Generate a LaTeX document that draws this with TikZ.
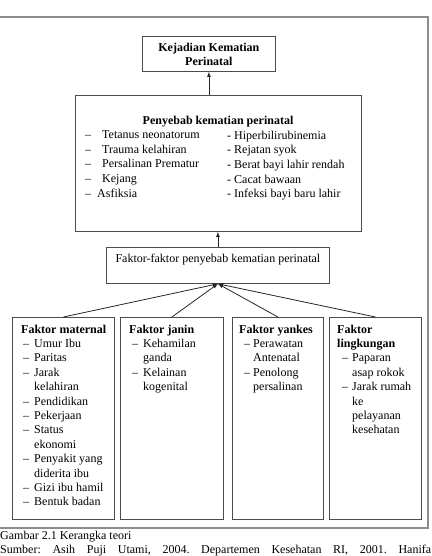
\documentclass[tikz,border=0pt]{standalone}
\usepackage{fontspec}
\setmainfont{Liberation Serif}
\usetikzlibrary{positioning, arrows.meta}
\tikzset{>=latex}
\tikzset{
  kotak/.style={draw=black!70, line width=0.8pt, inner sep=0pt, anchor=north west},
  isi/.style={inner sep=0pt, align=left, font=\fontsize{12}{14.4}\selectfont},
  panah/.style={->, black!85, line width=0.8pt}
}
\newcommand{\strip}[2]{\hspace*{#1}\makebox[#2][l]{--}}
\frenchspacing

\begin{document}
\begin{tikzpicture}[x=1pt,y=-1pt]
    \useasboundingbox (0,0) rectangle (431,556);
    \draw [black!45, line width=1.3pt] (-2,17) rectangle (428,528);
    % kotak utama
    \node [kotak, minimum width=133pt, minimum height=35pt, align=center, font=\fontsize{12}{14}\selectfont\bfseries] (kejadian) at (142,36) {Kejadian Kematian\\Perinatal};
    \node [kotak, minimum width=286pt, minimum height=136pt] (penyebab) at (75,95) {};
    \node [inner sep=0pt, font=\fontsize{12}{14}\selectfont\bfseries] (judul) at (218,122) {Penyebab kematian perinatal};
    \node [isi, anchor=north west, font=\fontsize{12}{14.7}\selectfont] (kiri) at (85,130.5) {%
        \makebox[17pt][l]{--}Tetanus neonatorum\\
        \makebox[17pt][l]{--}Trauma kelahiran\\
        \makebox[17pt][l]{--}Persalinan Prematur\\
        \makebox[17pt][l]{--}Kejang\\
        \makebox[12pt][l]{--}Asfiksia};
    \node [isi, anchor=north west, font=\fontsize{12}{14.7}\selectfont] (kanan) at (227,130.5) {%
        - Hiperbilirubinemia\\
        - Rejatan syok\\
        - Berat bayi lahir rendah\\
        - Cacat bawaan\\
        - Infeksi bayi baru lahir};
    \node [kotak, minimum width=223pt, inner xsep=0pt, inner ysep=3pt, text height=12pt, text depth=18pt, font=\fontsize{12}{14}\selectfont] (faktor) at (106,247) {Faktor-faktor penyebab kematian perinatal};
    % faktor-faktor
    \node [kotak, minimum width=102pt, minimum height=202pt] (maternal) at (12,317) {};
    \node [kotak, minimum width=103pt, minimum height=202pt] (janin) at (120,317) {};
    \node [kotak, minimum width=91pt, minimum height=202pt] (yankes) at (232,317) {};
    \node [kotak, minimum width=92pt, minimum height=202pt] (lingkungan) at (329,317) {};
    \node [isi, below right=7.5pt and 9pt of maternal.north west] (tmaternal) {%
        \textbf{Faktor maternal}\\
        \strip{2pt}{11pt}Umur Ibu\\
        \strip{2pt}{11pt}Paritas\\
        \strip{2pt}{11pt}Jarak\\
        \hspace*{13pt}kelahiran\\
        \strip{2pt}{11pt}Pendidikan\\
        \strip{2pt}{11pt}Pekerjaan\\
        \strip{2pt}{11pt}Status\\
        \hspace*{13pt}ekonomi\\
        \strip{2pt}{11pt}Penyakit yang\\
        \hspace*{13pt}diderita ibu\\
        \strip{2pt}{11pt}Gizi ibu hamil\\
        \strip{2pt}{11pt}Bentuk badan};
    \node [isi, below right=7.5pt and 9pt of janin.north west] (tjanin) {%
        \textbf{Faktor janin}\\
        \strip{3pt}{11pt}Kehamilan\\
        \hspace*{14pt}ganda\\
        \strip{3pt}{11pt}Kelainan\\
        \hspace*{14pt}kogenital};
    \node [isi, below right=7.5pt and 7pt of yankes.north west] (tyankes) {%
        \textbf{Faktor yankes}\\
        \strip{5pt}{9pt}Perawatan\\
        \hspace*{14pt}Antenatal\\
        \strip{5pt}{9pt}Penolong\\
        \hspace*{14pt}persalinan};
    \node [isi, below right=7.5pt and 8pt of lingkungan.north west] (tlingkungan) {%
        \textbf{Faktor}\\
        \textbf{lingkungan}\\
        \strip{5pt}{10pt}Paparan\\
        \hspace*{15pt}asap rokok\\
        \strip{5pt}{10pt}Jarak rumah\\
        \hspace*{15pt}ke\\
        \hspace*{15pt}pelayanan\\
        \hspace*{15pt}kesehatan};
    % panah
    \draw [panah] (penyebab.north -| kejadian.south) -- (kejadian.south);
    \draw [panah] (faktor.north) -- (faktor.north |- penyebab.south);
    \foreach \b in {maternal, janin, yankes, lingkungan}
        \draw [panah] (\b.north) -- (faktor.south);
    % keterangan
    \node [inner sep=0pt, anchor=north west, font=\fontsize{12}{14}\selectfont] (gambar) at (0,530.5) {Gambar 2.1 Kerangka teori};
    \node [inner sep=0pt, anchor=north west, font=\fontsize{12}{14}\selectfont] (sumber) at (0,545) {\makebox[431pt][s]{Sumber: Asih Puji Utami, 2004. Departemen Kesehatan RI, 2001. Hanifa}};
\end{tikzpicture}
\end{document}
